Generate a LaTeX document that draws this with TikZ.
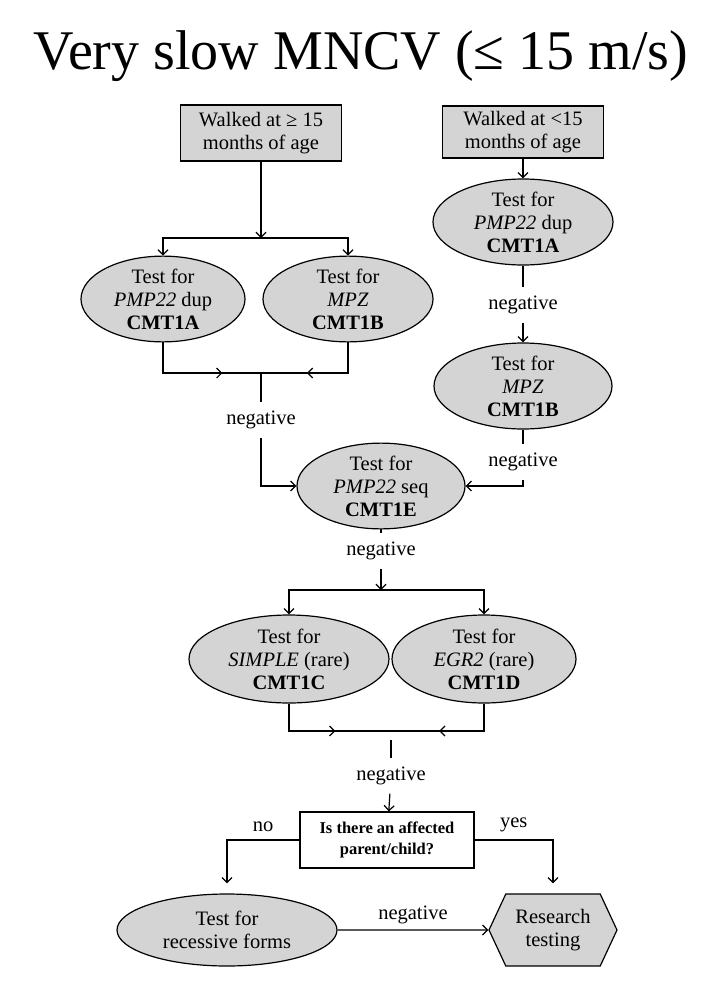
\documentclass[tikz,border=0pt]{standalone}
\usepackage{fontspec}
\setmainfont{Liberation Serif}
\usetikzlibrary{arrows.meta}
\usetikzlibrary{shapes.geometric}
\usetikzlibrary{shapes.symbols}
\usetikzlibrary{decorations.markings}

\definecolor{testgray}{RGB}{212,212,212}

\begin{document}
\begin{tikzpicture}[x=1pt,y=-1pt,line width=1.2pt,
                    >={Straight Barb[length=5pt,width=10pt]},
                    txt/.style={font=\fontsize{20.5}{23}\selectfont,align=center},
                    walkbox/.style={txt,draw,fill=testgray,minimum width=161pt,minimum height=56pt,inner sep=0pt},
                    testell/.style 2 args={txt,ellipse,draw,fill=testgray,minimum width=#1,minimum height=#2,inner sep=0pt},
                    neg/.style={txt,minimum height=34pt,inner sep=0pt},
                    midarrow/.style={decoration={markings,mark=at position #1 with {\arrow{>}}},postaction={decorate}}]
                    \useasboundingbox (0,0) rectangle (718,983);

                    \node[font=\fontsize{56}{56}\selectfont] (title) at (361,56) {Very slow MNCV (≤ 15 m/s)};

                    \node[walkbox] (walkA) at (261,133) {Walked at ≥ 15\\months of age};
                    \node[walkbox,minimum height=52pt] (walkB) at (523,132) {Walked at <15\\months of age};

                    \node[testell={164pt}{82pt}] (dupA) at (163,299) {Test for\\\textit{PMP22} dup\\\textbf{CMT1A}};
                    \node[testell={170pt}{82pt}] (mpzA) at (348,299) {Test for\\\textit{MPZ}\\\textbf{CMT1B}};
                    \node[testell={180pt}{86pt}] (dupB) at (523,222) {Test for\\\textit{PMP22} dup\\\textbf{CMT1A}};
                    \node[testell={178pt}{86pt}] (mpzB) at (523,386) {Test for\\\textit{MPZ}\\\textbf{CMT1B}};
                    \node[testell={168pt}{82pt}] (seqE) at (381,486) {Test for\\\textit{PMP22} seq\\\textbf{CMT1E}};
                    \node[testell={200pt}{88pt}] (simC) at (289,659) {Test for\\\textit{SIMPLE} (rare)\\\textbf{CMT1C}};
                    \node[testell={184pt}{88pt}] (egrD) at (484,659) {Test for\\\textit{EGR2} (rare)\\\textbf{CMT1D}};

                    \node[draw,fill=white,minimum width=174pt,minimum height=56pt,inner sep=0pt,
                          font=\bfseries\fontsize{16.5}{21}\selectfont,align=center] (parent) at (387,840) {Is there an affected\\parent/child?};
                    \node[testell={220pt}{72pt}] (recess) at (227,930) {Test for\\recessive forms};
                    \node[txt,signal,signal to=west and east,signal pointer angle=130,draw,fill=testgray,
                          minimum width=128pt,minimum height=72pt,inner sep=0pt] (research) at (553,930) {Research\\testing};

                    \node[neg] (negL) at (261,420) {negative};
                    \node[neg] (negR1) at (523,305) {negative};
                    \node[neg] (negR2) at (523,462) {negative};
                    \node[neg] (negE) at (381,551) {negative};
                    \node[neg] (negCD) at (391,776) {negative};

                    \coordinate (splitA) at (261,238);
                    \coordinate (joinA) at (261,373);
                    \coordinate (splitC) at (381,590);
                    \coordinate (joinC) at (391,731);
                    \coordinate (tickC) at (391,740);

                    \draw[->] (walkA) -- (splitA);
                    \draw[->] (splitA) -| (dupA);
                    \draw[->] (splitA) -| (mpzA);
                    \draw[midarrow=0.70] (dupA) |- (joinA);
                    \draw[midarrow=0.61] (mpzA) |- (joinA);
                    \draw (joinA) -- (negL);
                    \draw[->] (negL) |- (seqE);

                    \draw[->] (walkB) -- (dupB);
                    \draw (dupB) -- (negR1);
                    \draw[->] (negR1) -- (mpzB);
                    \draw (mpzB) -- (negR2);
                    \draw[->] (negR2) |- (seqE);

                    \draw (seqE) -- (negE);
                    \draw[->] (negE) -- (splitC);
                    \draw[->] (splitC) -| (simC);
                    \draw[->] (splitC) -| (egrD);
                    \draw[midarrow=0.57] (simC) |- (joinC);
                    \draw[midarrow=0.60] (egrD) |- (joinC);
                    \draw (tickC) -- (negCD);
                    \draw[->] (negCD) -- (parent);

                    \draw[->,shorten >=10pt] (parent) -| node[txt,pos=0.25,above=4pt] (no) {no} (recess);
                    \draw[->,shorten >=10pt] (parent) -| node[txt,pos=0.25,above=4pt] (yes) {yes} (research);
                    \draw[->] (recess) -- node[txt,above=2pt] (negRec) {negative} (research);
                \end{tikzpicture}
\end{document}
